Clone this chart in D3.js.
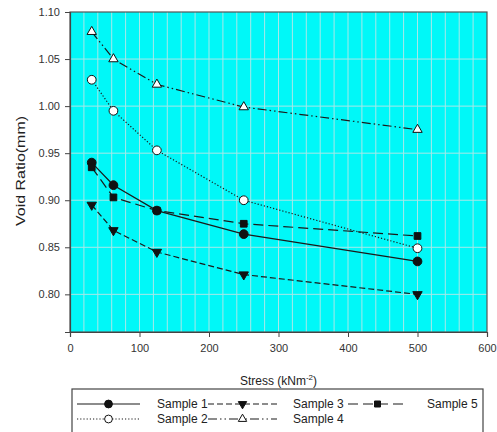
<!DOCTYPE html>
<html><head><meta charset="utf-8">
<script src="https://cdn.jsdelivr.net/npm/d3@7"></script>
<style>body{margin:0;background:#fff}svg{display:block}</style>
</head><body>
<svg id="c" width="497" height="432"></svg>
<script>
const stress = [31.25, 62.5, 125, 250, 500];
const sample1 = [0.940, 0.916, 0.889, 0.864, 0.835];
const sample2 = [1.028, 0.995, 0.953, 0.900, 0.849];
const sample3 = [0.895, 0.868, 0.845, 0.821, 0.800];
const sample4 = [1.079, 1.050, 1.023, 0.999, 0.975];
const sample5 = [0.935, 0.903, 0.889, 0.875, 0.862];
const seriesNames = ["Sample 1", "Sample 2", "Sample 3", "Sample 4", "Sample 5"];
const xTicks = [0, 100, 200, 300, 400, 500, 600];
const yTicks = [0.80, 0.85, 0.90, 0.95, 1.00, 1.05, 1.10];

const styles = [
  {dash: null, sym: d3.symbolCircle, size: 60, fill: "#111"},
  {dash: "1.2,2", sym: d3.symbolCircle, size: 60, fill: "#fff"},
  {dash: "6,3", sym: d3.symbolTriangle, size: 38, fill: "#111", rot: 180},
  {dash: "9,3,1.5,3,1.5,3", sym: d3.symbolTriangle, size: 38, fill: "#fff"},
  {dash: "10,5", sym: d3.symbolSquare, size: 45, fill: "#111"}
];
const data = [sample1, sample2, sample3, sample4, sample5];

const svg = d3.select("#c");
const L = 70, R = 487, T = 12, B = 332;
const x = d3.scaleLinear().domain([0, 600]).range([L, R]);
const y = d3.scaleLinear().domain([0.76, 1.10]).range([B, T]);

svg.append("rect").attr("x", L).attr("y", T).attr("width", R - L).attr("height", B - T).attr("fill", "#00f8f8");

// grid
const g = svg.append("g");
g.selectAll("line.v").data(d3.range(20, 600, 20)).join("line")
  .attr("x1", d => x(d)).attr("x2", d => x(d)).attr("y1", T).attr("y2", B)
  .attr("stroke", "#a8e8e8").attr("stroke-width", 1);
g.selectAll("line.h").data(yTicks.slice(0, -1)).join("line")
  .attr("x1", L).attr("x2", R).attr("y1", d => y(d)).attr("y2", d => y(d))
  .attr("stroke", "#a8e8e8").attr("stroke-width", 1);

svg.append("rect").attr("x", L).attr("y", T).attr("width", R - L).attr("height", B - T)
  .attr("fill", "none").attr("stroke", "#555").attr("stroke-width", 1.2);

const font = "Liberation Sans, Arial, sans-serif";
const xAxis = svg.append("g").attr("transform", `translate(0,${B})`)
  .call(d3.axisBottom(x).tickValues(xTicks).tickFormat(d3.format("d")).tickSize(5).tickPadding(7));
const yAxis = svg.append("g").attr("transform", `translate(${L},0)`)
  .call(d3.axisLeft(y).tickValues(yTicks).tickFormat(d3.format(".2f")).tickSize(5).tickPadding(5));
[xAxis, yAxis].forEach(a => {
  a.select(".domain").attr("stroke", "#444").attr("stroke-width", 1.2);
  a.selectAll(".tick line").attr("stroke", "#444");
  a.selectAll(".tick text").attr("fill", "#333").style("font-family", font).style("font-size", "11px");
});

// axis titles
const xt = svg.append("text").attr("x", (L + R) / 2).attr("y", 385).attr("text-anchor", "middle")
  .attr("fill", "#222").style("font-family", font).style("font-size", "12px");
xt.append("tspan").text("Stress (kNm");
xt.append("tspan").attr("dy", -5).style("font-size", "8px").text("-2");
xt.append("tspan").attr("dy", 5).text(")");
svg.append("text").attr("transform", `translate(25,${(T + B) / 2 - 1}) rotate(-90)`).attr("text-anchor", "middle")
  .attr("fill", "#222").style("font-family", font).style("font-size", "13px")
  .attr("textLength", 110).attr("lengthAdjust", "spacingAndGlyphs").text("Void Ratio(mm)");

// lines
const line = d3.line().x(d => x(d[0])).y(d => y(d[1]));
data.forEach((vals, i) => {
  const pts = stress.map((s, j) => [s, vals[j]]);
  const st = styles[i];
  svg.append("path").datum(pts).attr("d", line).attr("fill", "none")
    .attr("stroke", "#1a1a1a").attr("stroke-width", 1.2)
    .attr("stroke-dasharray", st.dash);
  svg.append("g").selectAll("path").data(pts).join("path")
    .attr("d", d3.symbol().type(st.sym).size(st.size))
    .attr("transform", d => `translate(${x(d[0])},${y(d[1])}) rotate(${st.rot || 0})`)
    .attr("fill", st.fill).attr("stroke", "#111").attr("stroke-width", 1);
});

// legend
svg.append("rect").attr("x", 72).attr("y", 389).attr("width", 411).attr("height", 60)
  .attr("fill", "#fff").attr("stroke", "#444").attr("stroke-width", 1.2);
const cols = [{x0: 77, x1: 140, tx: 157}, {x0: 208, x1: 277, tx: 293}, {x0: 348, x1: 407, tx: 427}];
const rows = [404, 419];
seriesNames.forEach((name, i) => {
  const c = cols[Math.floor(i / 2)], ry = rows[i % 2], st = styles[i];
  svg.append("line").attr("x1", c.x0).attr("x2", c.x1).attr("y1", ry).attr("y2", ry)
    .attr("stroke", "#1a1a1a").attr("stroke-width", 1.2).attr("stroke-dasharray", st.dash);
  svg.append("path").attr("d", d3.symbol().type(st.sym).size(st.size * 0.8)())
    .attr("transform", `translate(${(c.x0 + c.x1) / 2},${ry}) rotate(${st.rot || 0})`)
    .attr("fill", st.fill).attr("stroke", "#111").attr("stroke-width", 1);
  svg.append("text").attr("x", c.tx).attr("y", ry + 4).attr("fill", "#222")
    .style("font-family", font).style("font-size", "12px").text(name);
});
</script>
</body></html>
